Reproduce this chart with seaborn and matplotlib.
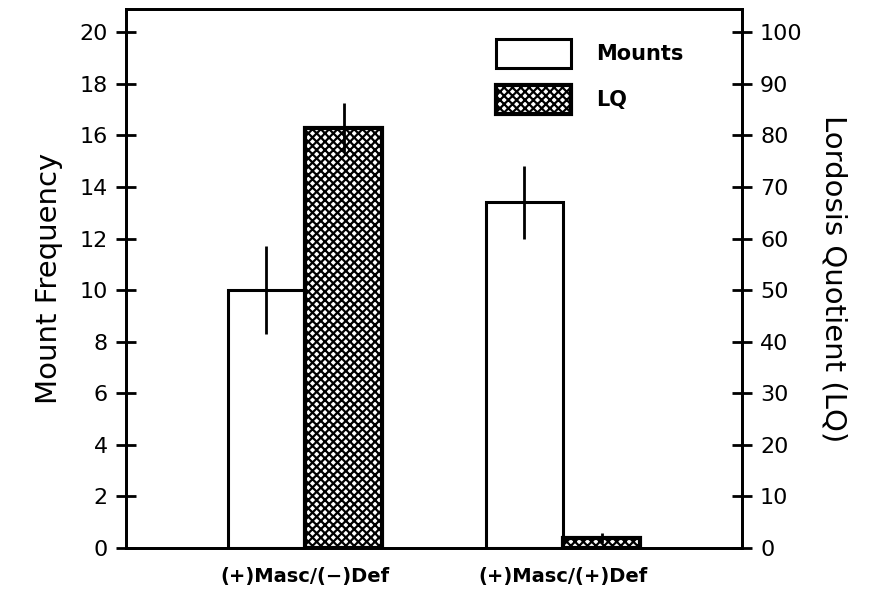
import matplotlib
matplotlib.use("Agg")
import matplotlib.pyplot as plt
import seaborn as sns
import pandas as pd
import numpy as np

groups = ["(+)Masc/(\u2212)Def", "(+)Masc/(+)Def"]
measures = ["Mounts", "LQ"]
mounts = [10.0, 13.4]
mounts_err = [1.7, 1.4]
lq = [81.5, 2.0]
lq_err = [4.7, 1.0]

sns.set_theme(style="white")
plt.rcParams['font.family'] = ['DejaVu Sans']
plt.rcParams['hatch.linewidth'] = 1.6
plt.rcParams['text.color'] = 'black'
plt.rcParams['axes.labelcolor'] = 'black'
plt.rcParams['xtick.color'] = 'black'
plt.rcParams['ytick.color'] = 'black'

fig = plt.figure(figsize=(8.76, 6.01), dpi=100)
ax = fig.add_axes([126/876, 1-548/601, (742-126)/876, (548-9)/601])
ax2 = ax.twinx()

df_m = pd.DataFrame({"group": groups + groups,
                     "measure": ["Mounts"]*2 + ["LQ"]*2,
                     "value": mounts + [np.nan, np.nan]})
df_l = pd.DataFrame({"group": groups + groups,
                     "measure": ["Mounts"]*2 + ["LQ"]*2,
                     "value": [np.nan, np.nan] + lq})

sns.barplot(data=df_m, x="group", y="value", hue="measure", hue_order=measures,
            order=groups, ax=ax, width=0.6, errorbar=None,
            palette=["white", "white"], edgecolor="black", linewidth=2.2, legend=False)
sns.barplot(data=df_l, x="group", y="value", hue="measure", hue_order=measures,
            order=groups, ax=ax2, width=0.6, errorbar=None,
            palette=["white", "white"], edgecolor="black", linewidth=3, legend=False)

for p in ax2.patches:
    if p.get_height() > 0:
        p.set_hatch("xxxx")

def bar_centers(a):
    cs = []
    for p in a.patches:
        h = p.get_height()
        if np.isfinite(h) and h > 0:
            cs.append((p.get_x() + p.get_width()/2, h))
    cs.sort()
    return [c[0] for c in cs]

mx = bar_centers(ax)
lx = bar_centers(ax2)
ax.errorbar(mx, mounts, yerr=mounts_err, fmt="none", ecolor="black", elinewidth=2, capsize=0, zorder=5)
ax2.errorbar(lx, lq, yerr=lq_err, fmt="none", ecolor="black", elinewidth=2, capsize=0, zorder=5)

ax.set_xlim(-0.694, 1.694)
ax.set_ylim(0, 20.9)
ax2.set_ylim(0, 104.5)
ax.set_yticks(range(0, 21, 2))
ax2.set_yticks(range(0, 101, 10))

ax.set_xlabel("")
ax.set_ylabel("Mount Frequency", fontsize=21, labelpad=12)
ax2.set_ylabel("Lordosis Quotient (LQ)", fontsize=21, rotation=270, labelpad=32)
ax2.set_xlabel("")

for a in (ax, ax2):
    for s in a.spines.values():
        s.set_color("black")
        s.set_linewidth(2)
ax.tick_params(axis="y", direction="inout", length=14, width=2, labelsize=16, pad=6, left=True)
ax2.tick_params(axis="y", direction="inout", length=14, width=2, labelsize=16, pad=6, right=True)
ax.tick_params(axis="x", length=0, labelsize=14, pad=14)
for t in ax.get_xticklabels():
    t.set_fontweight("bold")

from matplotlib.patches import Patch
handles = [Patch(facecolor="white", edgecolor="black", linewidth=2.2, label="Mounts"),
           Patch(facecolor="white", edgecolor="black", linewidth=3, hatch="xxxx", label="LQ")]
ax.legend(handles=handles, loc="upper left", bbox_to_anchor=(0.57, 0.98), frameon=False,
          handlelength=3.6, handleheight=1.8, labelspacing=0.8, handletextpad=1.2,
          prop={"weight": "bold", "size": 15})

fig.savefig("out.png", dpi=100)
